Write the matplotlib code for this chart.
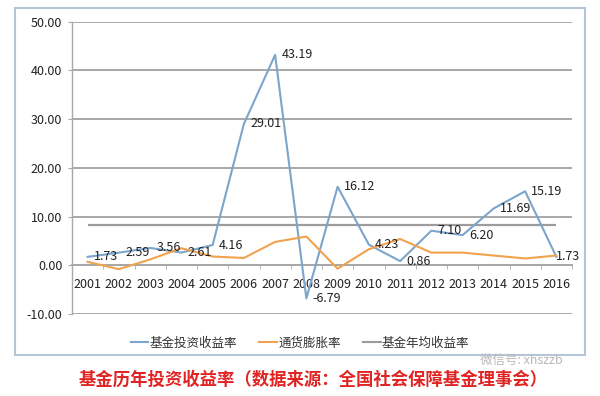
import numpy as np
import matplotlib
matplotlib.use("Agg")
import matplotlib.pyplot as plt
from matplotlib.lines import Line2D
from matplotlib.patches import Rectangle

plt.rcParams['font.family'] = ['Noto Sans CJK SC', 'DejaVu Sans']

years = ['2001', '2002', '2003', '2004', '2005', '2006', '2007', '2008',
         '2009', '2010', '2011', '2012', '2013', '2014', '2015', '2016']
fund_return = [1.73, 2.59, 3.56, 2.61, 4.16, 29.01, 43.19, -6.79,
               16.12, 4.23, 0.86, 7.10, 6.20, 11.69, 15.19, 1.73]
inflation = [0.7, -0.8, 1.2, 3.5, 1.8, 1.5, 4.8, 5.9,
             -0.7, 3.3, 5.4, 2.6, 2.6, 2.0, 1.4, 2.0]
avg_return = 8.37
yticks = [-10, 0, 10, 20, 30, 40, 50]
series_names = ['基金投资收益率', '通货膨胀率', '基金年均收益率']

c_fund = '#7ca5cc'
c_infl = '#f0a24e'
c_avg = '#9c9c9c'
c_grid = '#a8a8a8'

fig = plt.figure(figsize=(6, 3.96), dpi=100)
ax = fig.add_axes([72 / 600, (396 - 314) / 396, 500 / 600, (314 - 21.7) / 396])

x = np.arange(len(years))
ax.plot(x, fund_return, color=c_fund, lw=1.5, zorder=3)
ax.plot(x, inflation, color=c_infl, lw=1.5, zorder=3)
ax.hlines(avg_return, x[0], x[-1], color=c_avg, lw=1.6, zorder=2)

# data labels next to each point, last one sits right on the line end
for i, v in enumerate(fund_return):
    dx = 4.5 if i < len(fund_return) - 1 else 0
    ax.annotate('%.2f' % v, (x[i], v), xytext=(dx, 0), textcoords='offset points',
                ha='left', va='center', fontsize=9, color='#222222', zorder=4)

ax.set_xlim(-0.5, len(years) - 0.5)
ax.set_ylim(-10, 50)
ax.set_yticks(yticks)
ax.set_yticklabels(['%.2f' % t for t in yticks])
ax.yaxis.grid(True, color=c_grid, lw=1.4, zorder=1)

ax.spines['top'].set_visible(False)
ax.spines['right'].set_visible(False)
ax.spines['left'].set_color(c_grid)
ax.spines['left'].set_linewidth(1.0)
ax.spines['bottom'].set_position(('data', 0))
ax.spines['bottom'].set_color(c_grid)
ax.spines['bottom'].set_linewidth(1.4)

ax.set_xticks(x)
ax.set_xticklabels(years)
ax.set_xticks(np.arange(-0.5, len(years)), minor=True)
ax.tick_params(axis='x', which='major', length=0, pad=9, labelsize=9, labelcolor='#222222')
ax.tick_params(axis='x', which='minor', length=3, color=c_grid, direction='out')
ax.tick_params(axis='y', length=3, color=c_grid, pad=4, labelsize=9, labelcolor='#222222')

handles = [Line2D([], [], color=c, lw=1.5) for c in (c_fund, c_infl, c_avg)]
fig.legend(handles, series_names, loc='center', bbox_to_anchor=(300 / 600, 1 - 343 / 396),
           ncol=3, frameon=False, fontsize=9, handlelength=1.4, handletextpad=0.1,
           columnspacing=1.8, labelcolor='#333333')

fig.patches.append(Rectangle((15 / 600, 1 - 355 / 396), 570 / 600, 347 / 396,
                             transform=fig.transFigure, fill=False,
                             edgecolor='#b7c6d6', lw=1.5))

fig.text(480 / 600, 1 - 360 / 396, '微信号: xhszzb', color='#b8b8b8', fontsize=9,
         ha='left', va='center')
fig.text(313 / 600, 1 - 380 / 396, '基金历年投资收益率（数据来源：全国社会保障基金理事会）',
         color='#e02424', fontsize=12.5, fontweight='bold', ha='center', va='center')

fig.savefig('out.png', dpi=100)
